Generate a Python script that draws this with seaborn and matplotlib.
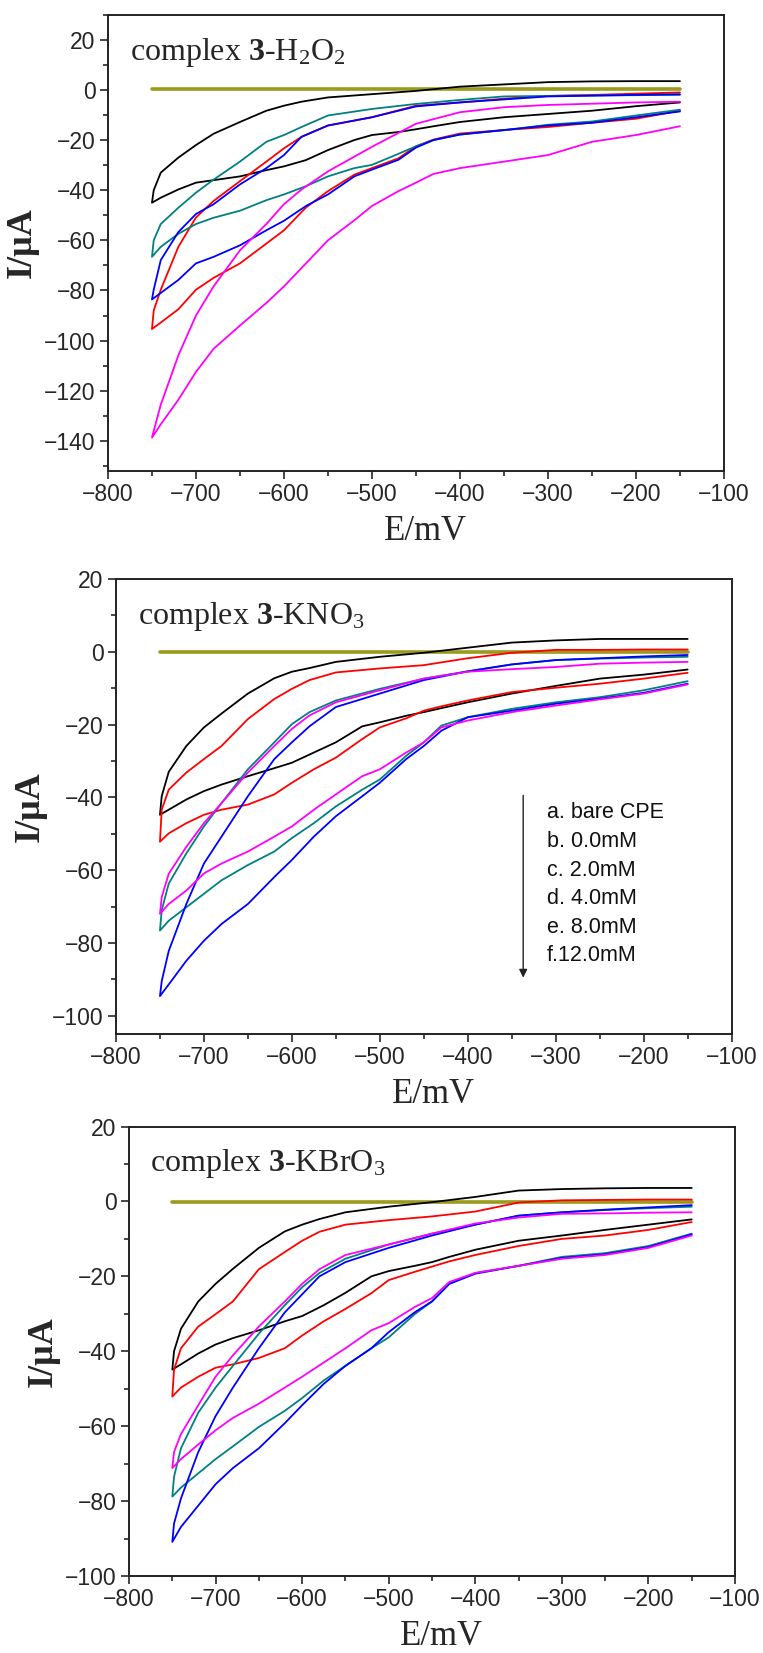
import numpy as np
import pandas as pd
import seaborn as sns
import matplotlib.pyplot as plt
from matplotlib.ticker import MultipleLocator

# potential grid (mV): forward sweep -150 -> -750, reverse sweep -750 -> -150
E_fwd = [-150, -200, -250, -300, -350, -400, -450, -500, -550, -580, -600,
         -620, -650, -680, -700, -720, -740, -748, -750]
E_rev = [-750, -740, -720, -700, -680, -650, -620, -600, -575, -550, -520,
         -500, -470, -450, -430, -400, -350, -300, -250, -200, -150]

curve_names = ["black", "red", "teal", "blue", "magenta"]
curve_colors = {"black": "#000000", "red": "#ff0000", "teal": "#008080",
                "blue": "#0000ff", "magenta": "#ff00ff"}
baseline_color = "#9a9a1c"

# complex 3 - H2O2 (current in uA, forward values then reverse values)
h2o2_black = [3.5, 3.5, 3.4, 3.1, 2.2, 1.3, -0.4, -1.7, -3.0, -4.7, -6.3, -8.3, -12.8, -17.5, -22.0, -27.0, -33.0, -40.0, -45.0,
              -45.0, -43.0, -39.7, -37.0, -36.0, -34.5, -32.0, -30.5, -28.0, -24.0, -20.0, -18.0, -16.8, -15.7, -14.5, -12.8, -10.9, -9.6, -8.3, -6.5, -5.0]
h2o2_red = [-1.0, -1.5, -2.0, -2.4, -3.5, -5.0, -6.3, -10.9, -14.2, -18.7, -23.3, -28.6, -36.4, -44.3, -50.9, -62.6, -79.7, -88.0, -95.4,
            -95.4, -92.8, -87.5, -79.7, -75.0, -69.2, -61.3, -56.0, -46.9, -40.4, -33.8, -31.2, -27.3, -22.5, -19.8, -17.4, -16.0, -14.8, -13.1, -11.5, -8.3]
h2o2_teal = [-2.0, -2.1, -2.2, -2.4, -2.6, -4.0, -5.6, -7.6, -10.2, -14.8, -18.0, -20.7, -28.6, -35.8, -41.0, -47.0, -53.5, -60.0, -66.6,
             -66.6, -62.6, -57.4, -53.5, -51.0, -48.2, -44.0, -41.7, -38.4, -34.5, -31.2, -29.9, -25.5, -22.5, -20.0, -17.8, -16.1, -13.9, -12.6, -10.2, -7.9]
h2o2_blue = [-1.7, -2.0, -2.3, -2.6, -3.8, -5.0, -6.6, -10.9, -14.2, -18.7, -26.0, -31.2, -37.7, -45.6, -49.5, -56.7, -67.9, -79.7, -83.6,
             -83.6, -81.0, -75.8, -69.2, -66.6, -62.0, -56.0, -52.2, -46.3, -41.7, -34.5, -31.8, -27.9, -23.0, -20.0, -17.8, -16.0, -14.2, -13.1, -10.9, -8.6]
h2o2_magenta = [-4.7, -5.0, -5.5, -6.0, -6.9, -8.9, -13.5, -22.7, -32.5, -39.7, -45.6, -53.5, -64.0, -78.4, -90.0, -105.9, -125.6, -136.0, -138.7,
                -138.7, -133.4, -123.6, -112.5, -103.3, -94.0, -85.0, -78.4, -69.2, -60.0, -52.0, -46.3, -40.4, -37.0, -33.5, -31.2, -28.6, -26.0, -20.7, -18.0, -14.5]

# complex 3 - KNO3
kno3_black = [3.5, 3.5, 3.5, 3.1, 2.5, 1.1, -0.3, -1.4, -2.8, -4.5, -5.5, -7.3, -11.5, -17.0, -20.8, -25.9, -33.0, -39.7, -44.8,
              -44.8, -43.4, -40.6, -38.3, -36.5, -34.2, -32.0, -30.5, -27.7, -24.9, -20.5, -19.4, -17.6, -16.6, -15.5, -13.9, -11.5, -9.4, -7.4, -6.3, -4.9]
kno3_red = [0.6, 0.6, 0.5, 0.5, -0.3, -1.8, -3.7, -4.6, -5.7, -7.8, -10.2, -13.0, -18.5, -25.9, -29.5, -33.2, -37.9, -43.4, -52.2,
            -52.2, -49.9, -47.1, -44.8, -43.4, -42.0, -39.2, -36.0, -32.3, -29.1, -24.0, -20.8, -18.3, -16.2, -15.0, -13.4, -11.1, -9.9, -8.8, -7.4, -5.8]
kno3_teal = [-1.4, -1.6, -1.9, -2.3, -3.5, -5.4, -7.4, -10.2, -13.4, -16.6, -19.9, -24.9, -32.3, -41.6, -48.0, -55.4, -63.7, -71.0, -76.6,
             -76.6, -73.9, -70.2, -66.5, -62.8, -58.6, -54.9, -51.2, -47.1, -42.5, -37.9, -35.1, -28.6, -24.9, -20.3, -18.0, -15.7, -13.9, -12.5, -10.6, -8.1]
kno3_blue = [-0.9, -1.3, -1.8, -2.3, -3.5, -5.4, -7.8, -11.5, -15.2, -20.5, -24.9, -29.5, -39.7, -50.8, -58.2, -69.3, -82.2, -90.5, -94.6,
             -94.6, -91.4, -84.9, -79.4, -74.8, -69.3, -61.9, -57.2, -50.8, -45.2, -39.7, -36.0, -29.5, -25.9, -21.7, -18.0, -16.2, -14.3, -12.9, -11.3, -8.8]
kno3_magenta = [-2.8, -3.0, -3.3, -4.2, -4.8, -5.5, -7.4, -10.6, -13.9, -17.5, -21.2, -25.9, -33.2, -41.6, -47.1, -53.6, -61.0, -67.4, -72.0,
                -72.0, -69.3, -65.6, -60.9, -58.2, -54.9, -50.8, -48.0, -43.4, -39.2, -34.2, -32.3, -27.7, -24.9, -20.8, -18.9, -16.6, -14.8, -13.1, -11.5, -9.0]

# complex 3 - KBrO3
kbro3_black = [3.6, 3.6, 3.5, 3.3, 2.9, 1.2, -0.2, -1.4, -2.9, -4.7, -6.2, -8.0, -12.4, -18.0, -22.0, -26.7, -34.0, -40.0, -44.9,
               -44.9, -43.5, -40.6, -38.2, -36.5, -34.4, -32.0, -30.6, -27.7, -24.4, -20.0, -18.6, -17.2, -16.2, -14.8, -12.9, -10.5, -9.1, -7.6, -6.2, -4.8]
kbro3_red = [0.5, 0.5, 0.4, 0.3, -0.3, -2.7, -4.0, -5.0, -6.2, -8.1, -10.5, -13.5, -18.1, -26.7, -30.1, -33.4, -39.2, -44.9, -52.1,
             -52.1, -49.7, -46.8, -44.4, -43.5, -41.8, -39.2, -35.8, -32.0, -28.7, -24.5, -21.0, -18.8, -17.4, -16.0, -14.3, -11.9, -10.0, -9.1, -7.6, -5.5]
kbro3_teal = [-1.4, -1.8, -2.3, -2.9, -3.8, -6.2, -8.6, -11.5, -15.3, -19.1, -22.9, -27.7, -35.3, -43.9, -49.7, -56.4, -65.9, -73.5, -78.8,
              -78.8, -76.4, -72.6, -68.8, -65.4, -60.2, -55.9, -52.5, -47.8, -43.9, -39.2, -36.3, -30.1, -26.7, -22.0, -19.1, -17.2, -14.8, -13.8, -11.9, -8.6]
kbro3_blue = [-1.0, -1.6, -2.2, -2.9, -3.8, -6.2, -9.1, -12.4, -16.2, -20.0, -24.8, -29.6, -39.2, -49.7, -57.3, -66.9, -79.3, -86.0, -90.9,
              -90.9, -86.9, -81.2, -75.5, -71.2, -65.9, -59.2, -54.4, -48.7, -43.9, -39.2, -34.9, -29.6, -26.7, -22.0, -19.3, -17.2, -15.1, -14.1, -12.2, -8.8]
kbro3_magenta = [-2.9, -3.0, -3.2, -3.3, -4.3, -5.9, -8.6, -11.5, -14.3, -18.1, -22.0, -26.7, -33.4, -41.1, -46.8, -54.4, -62.1, -66.9, -71.2,
                 -71.2, -68.8, -64.9, -61.1, -57.8, -54.0, -49.7, -46.8, -43.0, -39.2, -34.4, -32.5, -28.2, -25.8, -21.5, -19.1, -17.2, -15.3, -14.3, -12.4, -9.1]

# bare CPE: flat line near zero
baseline_E = [-750, -150]
baseline_I = {"h2o2": 0.3, "kno3": -0.2, "kbro3": -0.2}

legend_labels = ["a. bare CPE", "b. 0.0mM", "c. 2.0mM", "d. 4.0mM", "e. 8.0mM", "f.12.0mM"]

panels = [
    {"key": "h2o2", "title": r"complex $\mathbf{3}$-H$_\mathrm{2}$O$_\mathrm{2}$",
     "curves": [h2o2_black, h2o2_red, h2o2_teal, h2o2_blue, h2o2_magenta],
     "ylim": (-152, 30), "yticks": np.arange(-140, 21, 20),
     "rect": [0.1415, 0.7151, 0.8073, 0.2760]},
    {"key": "kno3", "title": r"complex $\mathbf{3}$-KNO$_\mathrm{3}$",
     "curves": [kno3_black, kno3_red, kno3_teal, kno3_blue, kno3_magenta],
     "ylim": (-105, 20), "yticks": np.arange(-100, 21, 20),
     "rect": [0.1520, 0.3745, 0.8069, 0.2753]},
    {"key": "kbro3", "title": r"complex $\mathbf{3}$-KBrO$_\mathrm{3}$",
     "curves": [kbro3_black, kbro3_red, kbro3_teal, kbro3_blue, kbro3_magenta],
     "ylim": (-100, 20), "yticks": np.arange(-100, 21, 20),
     "rect": [0.1691, 0.0466, 0.7942, 0.2719]},
]

sns.set_style("ticks")
plt.rcParams["font.family"] = ["Liberation Sans", "DejaVu Sans"]
plt.rcParams["mathtext.fontset"] = "custom"
plt.rcParams["mathtext.rm"] = "Liberation Serif"
plt.rcParams["mathtext.it"] = "Liberation Serif:italic"
plt.rcParams["mathtext.bf"] = "Liberation Serif:bold"
plt.rcParams["lines.solid_joinstyle"] = "round"

fig = plt.figure(figsize=(7.63, 16.53), dpi=100)
E_loop = E_fwd + E_rev

for p in panels:
    ax = fig.add_axes(p["rect"])
    rows = []
    for name, vals in zip(curve_names, p["curves"]):
        for e, i in zip(E_loop, vals):
            rows.append({"E": e, "I": i, "curve": name})
    df = pd.DataFrame(rows)

    base = pd.DataFrame({"E": baseline_E, "I": [baseline_I[p["key"]]] * 2})
    sns.lineplot(data=base, x="E", y="I", color=baseline_color, linewidth=2.6,
                 ax=ax, legend=False)
    sns.lineplot(data=df, x="E", y="I", hue="curve", palette=curve_colors,
                 sort=False, estimator=None, linewidth=1.3, ax=ax, legend=False)

    ax.set_xlim(-800, -100)
    ax.set_ylim(*p["ylim"])
    ax.set_xticks(np.arange(-800, -99, 100))
    ax.set_yticks(p["yticks"])
    ax.xaxis.set_minor_locator(MultipleLocator(50))
    ax.yaxis.set_minor_locator(MultipleLocator(10))
    ax.tick_params(which="major", direction="out", length=6, width=1.2,
                   labelsize=16.5, top=False, right=False, pad=3)
    ax.tick_params(which="minor", direction="out", length=3.5, width=1.2,
                   top=False, right=False)
    for s in ax.spines.values():
        s.set_linewidth(1.4)
        s.set_color("#222222")
        s.set_visible(True)

    ax.set_xlabel("E/mV", family="Liberation Serif", fontsize=25, labelpad=6)
    ax.xaxis.label.set_x(0.515)
    ax.set_ylabel("I/\u03bcA", family="Liberation Serif", fontsize=26,
                  fontweight="bold", labelpad=4)
    ax.text(0.035, 0.90, p["title"], transform=ax.transAxes, fontsize=23,
            family="Liberation Serif", va="baseline", ha="left")

    if p["key"] == "kno3":
        ax.annotate("", xy=(-337, -90.3), xytext=(-337, -38.7),
                    arrowprops=dict(arrowstyle="-|>", color="#222222", lw=1.0,
                                    mutation_scale=12))
        for k, lab in enumerate(legend_labels):
            ax.text(-310, -44.3 - 7.85 * k, lab, fontsize=15.5, va="center",
                    ha="left", color="#111111")

fig.savefig("out.png", dpi=100)
